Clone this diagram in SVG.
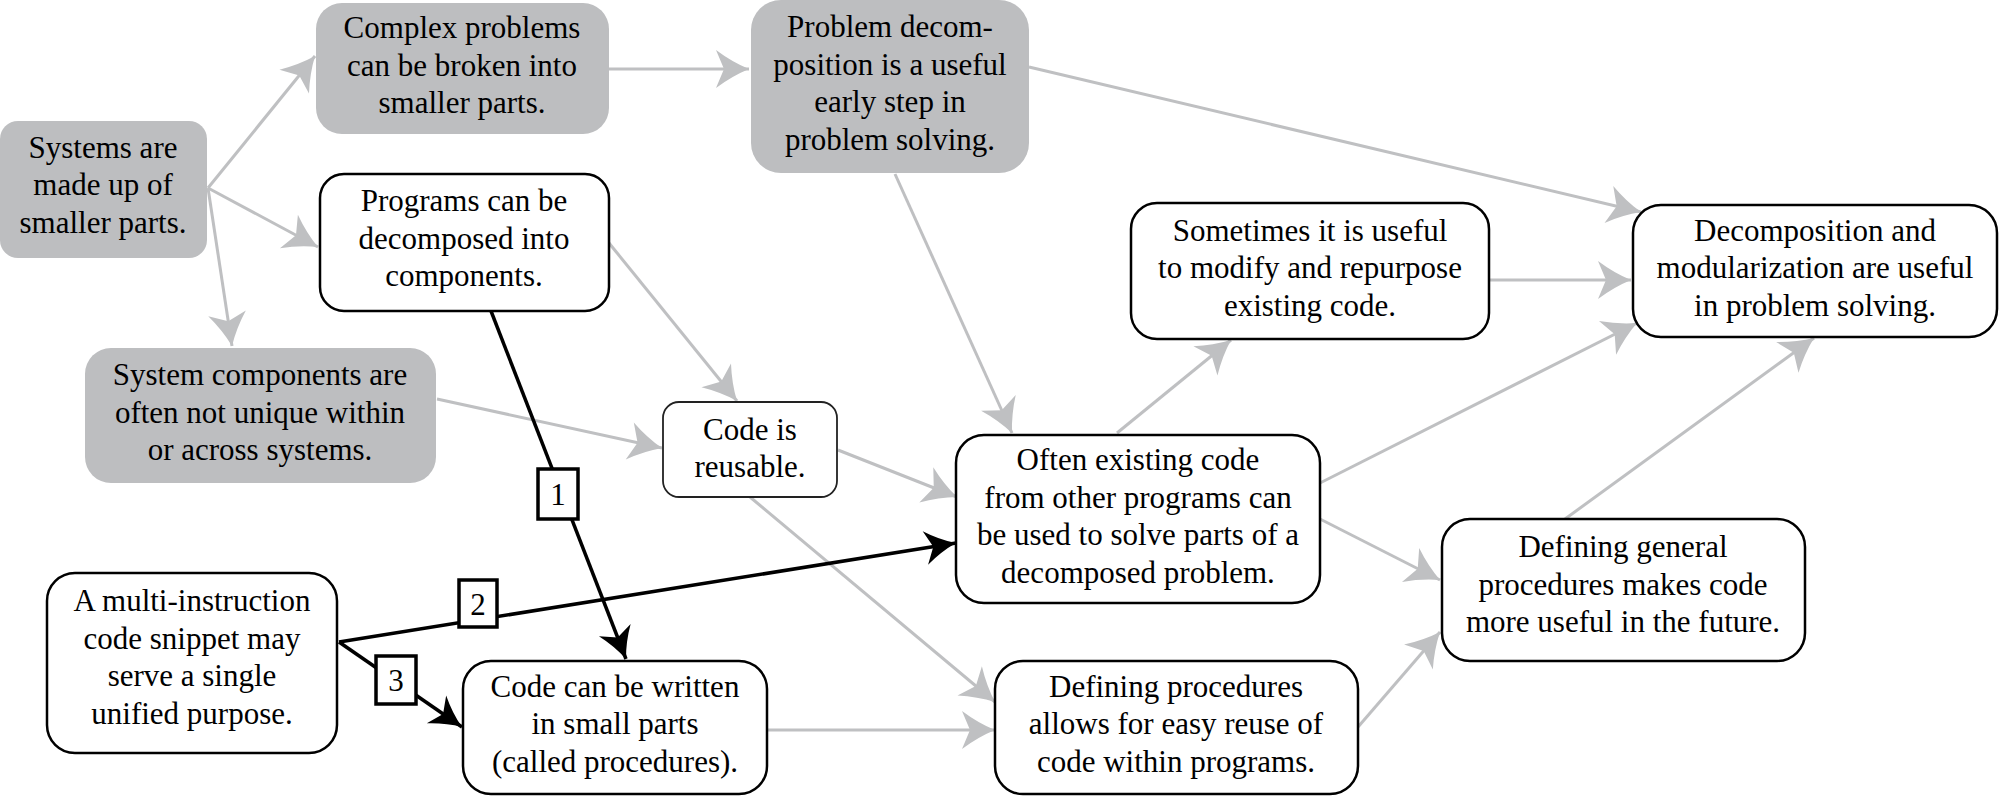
<svg xmlns="http://www.w3.org/2000/svg" width="1999" height="797" viewBox="0 0 1999 797">
<style>
text{font-family:"Liberation Serif","Times New Roman",serif;font-size:31px;fill:#000;text-anchor:middle}
.g{fill:#bdbec0;stroke:none}
.w{fill:#fff;stroke:#000;stroke-width:2.5}
.e{fill:none;stroke:#bfc0c2;stroke-width:3;marker-end:url(#ag)}
.b{fill:none;stroke:#000;stroke-width:3.5;marker-end:url(#ab)}
.lb{fill:#fff;stroke:#000;stroke-width:3.5}
</style>
<defs>
<marker id="ag" markerUnits="userSpaceOnUse" markerWidth="40" markerHeight="44" viewBox="-36 -22 40 44" refX="0" refY="0" orient="auto">
<path d="M0,0 Q-17,-7 -33,-19 L-25,0 L-33,19 Q-17,7 0,0 Z" fill="#bfc0c2"/>
</marker>
<marker id="ab" markerUnits="userSpaceOnUse" markerWidth="40" markerHeight="44" viewBox="-36 -22 40 44" refX="0" refY="0" orient="auto">
<path d="M0,0 Q-16,-6 -31,-17 L-23,0 L-31,17 Q-16,6 0,0 Z" fill="#000"/>
</marker>
</defs>
<g id="connectors">
<line class="e" x1="208" y1="188" x2="315" y2="56"/>
<line class="e" x1="208" y1="188" x2="318" y2="247"/>
<line class="e" x1="208" y1="188" x2="232" y2="346"/>
<line class="e" x1="609" y1="69" x2="749" y2="69"/>
<line class="e" x1="1029" y1="67" x2="1641" y2="212"/>
<line class="e" x1="895" y1="174" x2="1012" y2="433"/>
<line class="e" x1="609" y1="243" x2="737" y2="401"/>
<line class="e" x1="437" y1="399" x2="662" y2="448"/>
<line class="e" x1="838" y1="450" x2="957" y2="497"/>
<line class="e" x1="750" y1="497" x2="995" y2="702"/>
<line class="e" x1="1489" y1="280" x2="1631" y2="280"/>
<line class="e" x1="1117" y1="433" x2="1231" y2="340"/>
<line class="e" x1="1320" y1="483" x2="1637" y2="323"/>
<line class="e" x1="1320" y1="519" x2="1440" y2="580"/>
<line class="e" x1="1565" y1="519" x2="1814" y2="338"/>
<line class="e" x1="1358" y1="727" x2="1440" y2="632"/>
<line class="e" x1="767" y1="730" x2="995" y2="730"/>
<line class="b" x1="491" y1="311" x2="626" y2="659"/>
<line class="b" x1="339" y1="642" x2="956" y2="543"/>
<line class="b" x1="339" y1="642" x2="462" y2="727"/>
<g id="labels">
<rect class="lb" x="538" y="469" width="40" height="50"/>
<text x="558" y="505">1</text>
<rect class="lb" x="459" y="580" width="38" height="47"/>
<text x="478" y="615">2</text>
<rect class="lb" x="376" y="656" width="40" height="48"/>
<text x="396" y="691">3</text>
</g>
</g>
<g id="nA">
<rect class="g" x="0" y="121" width="207" height="137" rx="18"/>
<text x="103" y="158">Systems are</text>
<text x="103" y="195">made up of</text>
<text x="103" y="233">smaller parts.</text>
</g>
<g id="nB">
<rect class="g" x="316" y="3" width="293" height="131" rx="26"/>
<text x="462" y="38">Complex problems</text>
<text x="462" y="75.5">can be broken into</text>
<text x="462" y="113">smaller parts.</text>
</g>
<g id="nC">
<rect class="g" x="751" y="0" width="278" height="173" rx="30"/>
<text x="890" y="37">Problem decom-</text>
<text x="890" y="74.5">position is a useful</text>
<text x="890" y="112">early step in</text>
<text x="890" y="149.5">problem solving.</text>
</g>
<g id="nD">
<rect class="w" x="320" y="174" width="289" height="137" rx="24"/>
<text x="464" y="211">Programs can be</text>
<text x="464" y="248.5">decomposed into</text>
<text x="464" y="286">components.</text>
</g>
<g id="nE">
<rect class="g" x="85" y="348" width="351" height="135" rx="26"/>
<text x="260" y="385">System components are</text>
<text x="260" y="422.5">often not unique within</text>
<text x="260" y="460">or across systems.</text>
</g>
<g id="nF">
<rect class="w" x="663" y="402" width="174" height="95" rx="16" style="stroke-width:1.8;stroke:#222"/>
<text x="750" y="440">Code is</text>
<text x="750" y="477">reusable.</text>
</g>
<g id="nG">
<rect class="w" x="1131" y="203" width="358" height="136" rx="26"/>
<text x="1310" y="240.5">Sometimes it is useful</text>
<text x="1310" y="278">to modify and repurpose</text>
<text x="1310" y="315.5">existing code.</text>
</g>
<g id="nH">
<rect class="w" x="1633" y="205" width="364" height="132" rx="28"/>
<text x="1815" y="240.5">Decomposition and</text>
<text x="1815" y="278">modularization are useful</text>
<text x="1815" y="315.5">in problem solving.</text>
</g>
<g id="nI">
<rect class="w" x="956" y="435" width="364" height="168" rx="28"/>
<text x="1138" y="470">Often existing code</text>
<text x="1138" y="507.5">from other programs can</text>
<text x="1138" y="545">be used to solve parts of a</text>
<text x="1138" y="582.5">decomposed problem.</text>
</g>
<g id="nJ">
<rect class="w" x="1442" y="519" width="363" height="142" rx="28"/>
<text x="1623" y="557">Defining general</text>
<text x="1623" y="594.5">procedures makes code</text>
<text x="1623" y="632">more useful in the future.</text>
</g>
<g id="nK">
<rect class="w" x="47" y="573" width="290" height="180" rx="28"/>
<text x="192" y="611">A multi-instruction</text>
<text x="192" y="648.5">code snippet may</text>
<text x="192" y="686">serve a single</text>
<text x="192" y="723.5">unified purpose.</text>
</g>
<g id="nL">
<rect class="w" x="463" y="661" width="304" height="133" rx="28"/>
<text x="615" y="696.5">Code can be written</text>
<text x="615" y="734">in small parts</text>
<text x="615" y="771.5">(called procedures).</text>
</g>
<g id="nM">
<rect class="w" x="995" y="661" width="363" height="133" rx="28"/>
<text x="1176" y="696.5">Defining procedures</text>
<text x="1176" y="734">allows for easy reuse of</text>
<text x="1176" y="771.5">code within programs.</text>
</g>
</svg>
